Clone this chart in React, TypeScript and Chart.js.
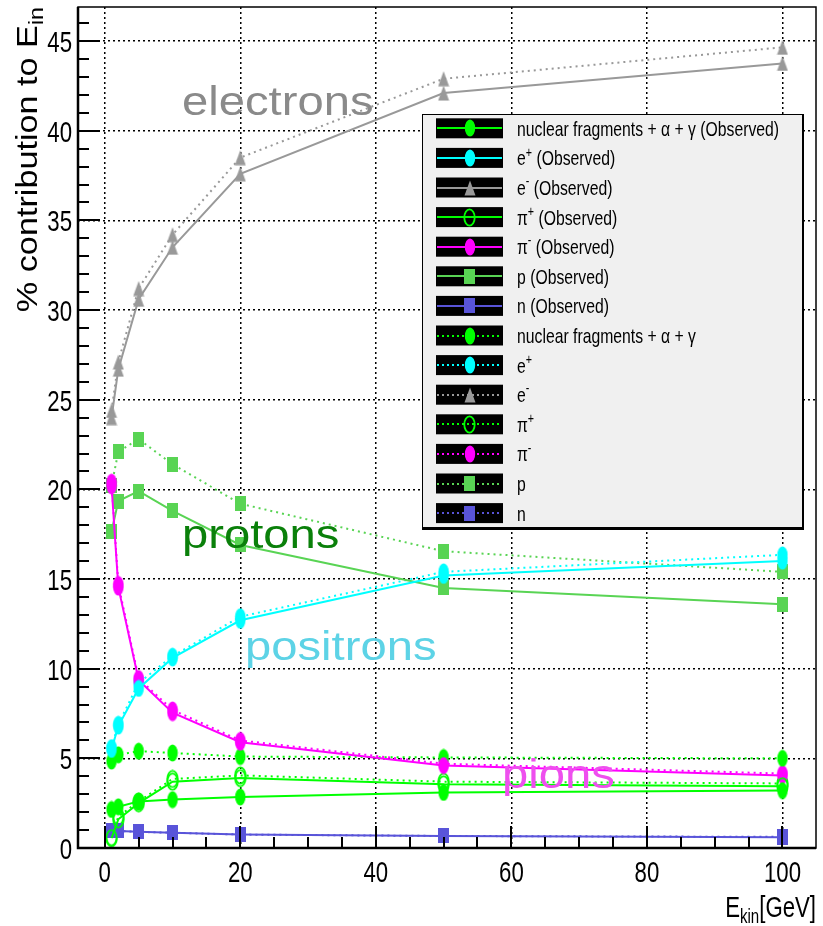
import React, { useEffect, useRef } from 'react';
import { Chart, registerables } from 'chart.js';
Chart.register(...registerables);

// ---- data ----
const energies = [1, 2, 5, 10, 20, 50, 100];
const fragObs = [2.15, 2.3, 2.6, 2.7, 2.85, 3.1, 3.2];
const ePlusObs = [5.5, 6.8, 8.9, 10.6, 12.7, 15.2, 16.0];
const eMinusObs = [24.0, 26.7, 30.6, 33.5, 37.6, 42.1, 43.75];
const piPlusObs = [0.55, 1.6, 2.5, 3.7, 3.9, 3.55, 3.45];
const piMinusObs = [20.2, 14.55, 9.35, 7.55, 5.9, 4.6, 4.05];
const protonObs = [17.65, 19.35, 19.9, 18.8, 16.9, 14.5, 13.6];
const neutronObs = [1.0, 0.95, 0.9, 0.85, 0.75, 0.67, 0.6];
const fragSim = [4.85, 5.2, 5.4, 5.3, 5.1, 5.05, 5.0];
const ePlusSim = [5.6, 6.9, 9.2, 10.7, 12.9, 15.4, 16.35];
const eMinusSim = [24.4, 27.1, 31.2, 34.2, 38.5, 42.9, 44.65];
const piPlusSim = [0.6, 1.75, 2.6, 3.85, 4.05, 3.7, 3.6];
const piMinusSim = [20.4, 14.7, 9.45, 7.7, 6.0, 4.7, 4.15];
const protonSim = [20.2, 22.1, 22.8, 21.4, 19.2, 16.55, 15.4];
const neutronSim = [1.0, 0.95, 0.9, 0.85, 0.75, 0.67, 0.62];

const xTicks = [0, 20, 40, 60, 80, 100];
const yTicks = [0, 5, 10, 15, 20, 25, 30, 35, 40, 45];
const xRange = [-3.95, 104.95];
const yRange = [0, 46.9];

type Part = { t: string; sup?: boolean; sub?: boolean };

const labelFrag: Part[] = [{ t: 'nuclear fragments + α + γ' }];
const labelEPlus: Part[] = [{ t: 'e' }, { t: '+', sup: true }];
const labelEMinus: Part[] = [{ t: 'e' }, { t: '-', sup: true }];
const labelPiPlus: Part[] = [{ t: 'π' }, { t: '+', sup: true }];
const labelPiMinus: Part[] = [{ t: 'π' }, { t: '-', sup: true }];
const labelP: Part[] = [{ t: 'p' }];
const labelN: Part[] = [{ t: 'n' }];
const observedSuffix: Part = { t: ' (Observed)' };

const COL_FRAG = '#00ff00';
const COL_EPLUS = '#00ffff';
const COL_EMINUS = '#999999';
const COL_PIPLUS = '#00ff00';
const COL_PIMINUS = '#ff00ff';
const COL_P = '#59d454';
const COL_N = '#5954d9';

const FONT = "'Liberation Sans', Arial, Helvetica, sans-serif";

function makeMarker(kind: string, color: string): HTMLCanvasElement {
  const c = document.createElement('canvas');
  let w = 12, h = 18;
  if (kind === 'square') { w = 11; h = 15; }
  if (kind === 'triangle') { w = 12; h = 16; }
  if (kind === 'ring') { w = 13; h = 19; }
  c.width = w; c.height = h;
  const g = c.getContext('2d')!;
  g.fillStyle = color; g.strokeStyle = color;
  if (kind === 'circle') {
    g.beginPath(); g.ellipse(w / 2, h / 2, 5.2, 8.6, 0, 0, Math.PI * 2); g.fill();
  } else if (kind === 'ring') {
    g.lineWidth = 1.8; g.beginPath(); g.ellipse(w / 2, h / 2, 5.2, 8.2, 0, 0, Math.PI * 2); g.stroke();
  } else if (kind === 'square') {
    g.fillRect(0, 0, w, h);
  } else if (kind === 'triangle') {
    g.beginPath(); g.moveTo(w / 2, 0.5); g.lineTo(w - 0.5, h - 0.5); g.lineTo(0.5, h - 0.5); g.closePath(); g.fill();
  }
  return c;
}

function drawParts(ctx: CanvasRenderingContext2D, parts: Part[], x: number, y: number, size: number, sx: number, align: string) {
  const small = size * 0.68;
  let total = 0;
  for (const p of parts) {
    ctx.font = `${p.sup || p.sub ? small : size}px ${FONT}`;
    total += ctx.measureText(p.t).width * sx;
  }
  let cx = align === 'right' ? x - total : align === 'center' ? x - total / 2 : x;
  ctx.textAlign = 'left';
  ctx.textBaseline = 'alphabetic';
  for (const p of parts) {
    ctx.font = `${p.sup || p.sub ? small : size}px ${FONT}`;
    const w = ctx.measureText(p.t).width * sx;
    const dy = p.sup ? -size * 0.42 : p.sub ? size * 0.2 : 0;
    ctx.save();
    ctx.translate(cx, y + dy);
    ctx.scale(sx, 1);
    ctx.fillText(p.t, 0, 0);
    ctx.restore();
    cx += w;
  }
}

export default function App() {
  const ref = useRef<HTMLCanvasElement>(null);
  useEffect(() => {
    const canvas = ref.current!;
    const series = [
      { parts: [...labelFrag, observedSuffix], data: fragObs, color: COL_FRAG, marker: 'circle', dotted: false },
      { parts: [...labelEPlus, observedSuffix], data: ePlusObs, color: COL_EPLUS, marker: 'circle', dotted: false },
      { parts: [...labelEMinus, observedSuffix], data: eMinusObs, color: COL_EMINUS, marker: 'triangle', dotted: false },
      { parts: [...labelPiPlus, observedSuffix], data: piPlusObs, color: COL_PIPLUS, marker: 'ring', dotted: false },
      { parts: [...labelPiMinus, observedSuffix], data: piMinusObs, color: COL_PIMINUS, marker: 'circle', dotted: false },
      { parts: [...labelP, observedSuffix], data: protonObs, color: COL_P, marker: 'square', dotted: false },
      { parts: [...labelN, observedSuffix], data: neutronObs, color: COL_N, marker: 'square', dotted: false },
      { parts: labelFrag, data: fragSim, color: COL_FRAG, marker: 'circle', dotted: true },
      { parts: labelEPlus, data: ePlusSim, color: COL_EPLUS, marker: 'circle', dotted: true },
      { parts: labelEMinus, data: eMinusSim, color: COL_EMINUS, marker: 'triangle', dotted: true },
      { parts: labelPiPlus, data: piPlusSim, color: COL_PIPLUS, marker: 'ring', dotted: true },
      { parts: labelPiMinus, data: piMinusSim, color: COL_PIMINUS, marker: 'circle', dotted: true },
      { parts: labelP, data: protonSim, color: COL_P, marker: 'square', dotted: true },
      { parts: labelN, data: neutronSim, color: COL_N, marker: 'square', dotted: true },
    ].map((s) => ({ ...s, img: makeMarker(s.marker, s.color) }));

    const overlay = {
      id: 'overlay',
      afterDraw(chart: any) {
        const ctx: CanvasRenderingContext2D = chart.ctx;
        const a = chart.chartArea;
        const xs = chart.scales.x;
        const ys = chart.scales.y;
        ctx.save();
        // frame
        ctx.strokeStyle = '#000';
        ctx.lineWidth = 1.5;
        ctx.strokeRect(a.left, a.top, a.right - a.left, a.bottom - a.top);
        ctx.lineWidth = 2.5;
        ctx.beginPath();
        ctx.moveTo(a.left, a.top); ctx.lineTo(a.left, a.bottom); ctx.lineTo(a.right, a.bottom);
        ctx.stroke();
        // ticks
        ctx.lineWidth = 2;
        ctx.beginPath();
        for (let v = 0; v <= 46; v++) {
          const py = Math.round(ys.getPixelForValue(v));
          const len = v % 5 === 0 ? 22 : 11;
          ctx.moveTo(a.left, py); ctx.lineTo(a.left + len, py);
        }
        for (let v = 0; v <= 100; v += 5) {
          const px = Math.round(xs.getPixelForValue(v));
          const len = v % 20 === 0 ? 22 : 11;
          ctx.moveTo(px, a.bottom); ctx.lineTo(px, a.bottom - len);
        }
        ctx.stroke();
        // tick labels
        ctx.fillStyle = '#000';
        for (const v of yTicks) {
          drawParts(ctx, [{ t: String(v) }], a.left - 6, ys.getPixelForValue(v) + 11, 30, 0.74, 'right');
        }
        for (const v of xTicks) {
          drawParts(ctx, [{ t: String(v) }], xs.getPixelForValue(v), 882, 30, 0.74, 'center');
        }
        // axis titles
        drawParts(ctx, [{ t: 'E' }, { t: 'kin', sub: true }, { t: '[GeV]' }], a.right, 917, 30, 0.74, 'right');
        ctx.save();
        ctx.translate(37, 7);
        ctx.rotate(-Math.PI / 2);
        drawParts(ctx, [{ t: '% contribution to E' }, { t: 'in', sub: true }], 0, 0, 30, 1.14, 'right');
        ctx.restore();
        // annotations
        const ann = [
          { t: 'electrons', x: 182, y: 115, c: '#8a8a8a' },
          { t: 'protons', x: 182, y: 548, c: '#0a800a' },
          { t: 'positrons', x: 245, y: 660, c: '#5dd3e6' },
          { t: 'pions', x: 502, y: 788, c: '#ee4fee' },
        ];
        for (const n of ann) {
          ctx.fillStyle = n.c;
          drawParts(ctx, [{ t: n.t }], n.x, n.y, 40, 1.18, 'left');
        }
        // legend
        ctx.fillStyle = '#000';
        ctx.fillRect(422, 114, 382, 416);
        ctx.fillStyle = '#f0f0f0';
        ctx.fillRect(423, 115, 379, 412);
        series.forEach((s, i) => {
          const cy = 128.3 + i * 29.6;
          ctx.fillStyle = '#000';
          ctx.fillRect(436, cy - 10, 67, 20);
          ctx.strokeStyle = s.color;
          ctx.lineWidth = 2;
          ctx.setLineDash(s.dotted ? [2, 3] : []);
          ctx.beginPath();
          ctx.moveTo(437, Math.round(cy)); ctx.lineTo(502, Math.round(cy));
          ctx.stroke();
          ctx.setLineDash([]);
          ctx.drawImage(s.img, Math.round(469.5 - s.img.width / 2), Math.round(cy - s.img.height / 2));
          ctx.fillStyle = '#000';
          drawParts(ctx, s.parts, 517, cy + 7.5, 21, 0.75, 'left');
        });
        ctx.restore();
      },
    };

    const chart = new Chart(canvas, {
      type: 'line',
      data: {
        datasets: series.map((s) => ({
          label: s.parts.map((p) => p.t).join(''),
          data: energies.map((e, i) => ({ x: e, y: s.data[i] })),
          borderColor: s.color,
          backgroundColor: s.color,
          borderWidth: 2,
          borderDash: s.dotted ? [2, 4] : [],
          pointStyle: s.img as any,
          pointRadius: 5,
          pointHoverRadius: 5,
          tension: 0,
          fill: false,
        })),
      },
      options: {
        responsive: false,
        maintainAspectRatio: false,
        devicePixelRatio: 1,
        animation: false,
        events: [],
        layout: { padding: { top: 7, right: 4, left: 0, bottom: 0 } },
        plugins: { legend: { display: false }, tooltip: { enabled: false } },
        scales: {
          x: {
            type: 'linear',
            min: xRange[0],
            max: xRange[1],
            ticks: { display: false },
            grid: { color: '#000', lineWidth: 1.5, drawTicks: false },
            border: { display: false, dash: [2, 3] },
            afterBuildTicks: (scale: any) => { scale.ticks = xTicks.map((v) => ({ value: v })); },
            afterFit: (scale: any) => { scale.height = 78; },
          },
          y: {
            type: 'linear',
            min: yRange[0],
            max: yRange[1],
            ticks: { display: false },
            grid: { color: '#000', lineWidth: 1.5, drawTicks: false },
            border: { display: false, dash: [2, 3] },
            afterBuildTicks: (scale: any) => { scale.ticks = yTicks.map((v) => ({ value: v })); },
            afterFit: (scale: any) => { scale.width = 78; },
          },
        },
      },
      plugins: [overlay],
    } as any);
    return () => chart.destroy();
  }, []);
  return (
    <div style={{ position: 'absolute', left: 0, top: 0, width: 823, height: 926, background: '#fff' }}>
      <canvas ref={ref} width={823} height={926} style={{ display: 'block', width: 823, height: 926 }} />
    </div>
  );
}
